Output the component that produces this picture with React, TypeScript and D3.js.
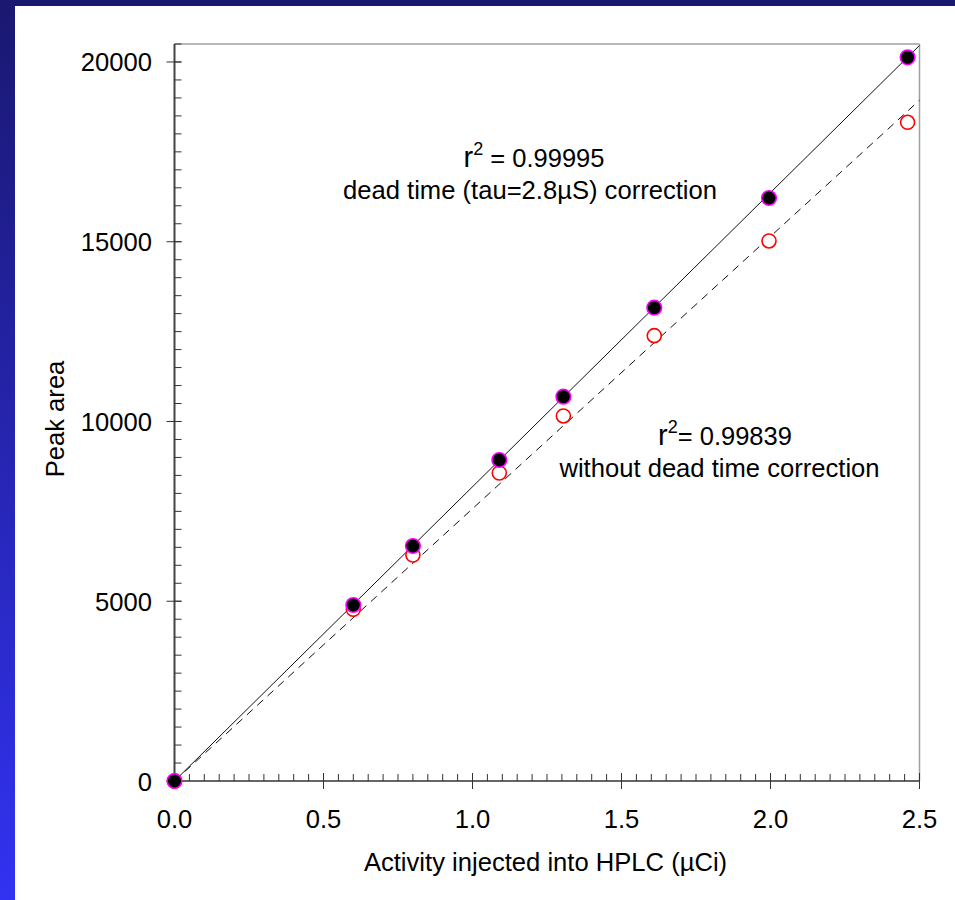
import React from "react";
import * as d3 from "d3";

// Data
const activity = [0, 0.6, 0.8, 1.09, 1.305, 1.61, 1.995, 2.46];
const areaCorrected = [0, 4896, 6537, 8929, 10690, 13166, 16217, 20130];
const areaUncorrected = [0, 4776, 6286, 8567, 10153, 12387, 15021, 18323];
const fitCorrectedLine = [[0, 0], [2.5, 20460]];
const fitUncorrectedLine = [[0, 0], [2.5, 18935]];
const xMajorTicks = [0, 0.5, 1.0, 1.5, 2.0, 2.5];
const yMajorTicks = [0, 5000, 10000, 15000, 20000];

const W = 955;
const H = 900;
const FONT = "'Liberation Sans', Arial, sans-serif";
const FS = 25.6;

export default function App() {
  const x = d3.scaleLinear().domain([0, 2.5]).range([174.5, 919.5]);
  const y = d3.scaleLinear().domain([0, 20500]).range([781, 44]);
  const xMinor = d3.range(0, 2.5 + 1e-9, 0.05);
  const yMinor = d3.range(0, 20500 + 1e-9, 500);
  const line = d3
    .line<number[]>()
    .x((d) => x(d[0]))
    .y((d) => y(d[1]));
  const x0 = x(0), x1 = x(2.5), y0 = y(0), y1 = y(20500);

  return (
    <svg
      width={W}
      height={H}
      style={{ position: "absolute", left: 0, top: 0, display: "block" }}
      fontFamily={FONT}
    >
      <defs>
        <linearGradient id="leftGrad" x1="0" y1="0" x2="0" y2="1">
          <stop offset="0" stopColor="#1a1870" />
          <stop offset="1" stopColor="#3232f2" />
        </linearGradient>
      </defs>
      <rect x={0} y={0} width={W} height={H} fill="#ffffff" />
      <rect x={0} y={0} width={W} height={6} fill="#191870" />
      <rect x={0} y={0} width={15} height={H} fill="url(#leftGrad)" />

      {/* frame top/right */}
      <line x1={x0} x2={x1} y1={y1} y2={y1} stroke="#a0a0a0" strokeWidth={1.5} />
      <line x1={x1} x2={x1} y1={y1} y2={y0} stroke="#a0a0a0" strokeWidth={1.5} />

      {/* fit lines */}
      <path d={line(fitCorrectedLine) || ""} fill="none" stroke="#111" strokeWidth={1} />
      <path
        d={line(fitUncorrectedLine) || ""}
        fill="none"
        stroke="#111"
        strokeWidth={1}
        strokeDasharray="8,6"
      />

      {/* axes */}
      <line x1={x0} x2={x1} y1={y0} y2={y0} stroke="#333" strokeWidth={1.5} />
      <line x1={x0} x2={x0} y1={y1} y2={y0} stroke="#444" strokeWidth={2} />

      {xMinor.map((t, i) => (
        <line key={"xm" + i} x1={x(t)} x2={x(t)} y1={y0} y2={y0 - 7} stroke="#333" strokeWidth={1} />
      ))}
      {xMajorTicks.map((t) => (
        <g key={"xM" + t}>
          <line x1={x(t)} x2={x(t)} y1={y0 - 8} y2={y0 + 8} stroke="#333" strokeWidth={1} />
          <text x={x(t)} y={828} textAnchor="middle" fontSize={FS} fill="#000">
            {t.toFixed(1)}
          </text>
        </g>
      ))}
      {yMinor.map((t, i) => (
        <line key={"ym" + i} x1={x0} x2={x0 + 7} y1={y(t)} y2={y(t)} stroke="#333" strokeWidth={1} />
      ))}
      {yMajorTicks.map((t) => (
        <g key={"yM" + t}>
          <line x1={x0 - 8} x2={x0 + 7} y1={y(t)} y2={y(t)} stroke="#333" strokeWidth={1} />
          <text x={152} y={y(t) + 9.5} textAnchor="end" fontSize={FS} fill="#000">
            {t}
          </text>
        </g>
      ))}

      {/* uncorrected points (open red) */}
      {activity.map((a, i) => (
        <circle
          key={"u" + i}
          cx={x(a)}
          cy={y(areaUncorrected[i])}
          r={7}
          fill="#fff"
          stroke="#ff0000"
          strokeWidth={1.6}
        />
      ))}
      {/* corrected points (black, magenta outline) */}
      {activity.map((a, i) => (
        <circle
          key={"c" + i}
          cx={x(a)}
          cy={y(areaCorrected[i])}
          r={7.3}
          fill="#000"
          stroke="#ff00ff"
          strokeWidth={1.6}
        />
      ))}

      {/* annotations */}
      <text x={534} y={167} textAnchor="middle" fill="#000">
        <tspan fontSize={29}>r</tspan>
        <tspan fontSize={18} dy={-12}>2</tspan>
        <tspan fontSize={25.5} dy={12}> = 0.99995</tspan>
      </text>
      <text x={530} y={199} textAnchor="middle" fontSize={FS} fill="#000">
        dead time (tau=2.8µS) correction
      </text>
      <text x={725} y={445} textAnchor="middle" fill="#000">
        <tspan fontSize={29}>r</tspan>
        <tspan fontSize={18} dy={-12}>2</tspan>
        <tspan fontSize={25.5} dy={12}>= 0.99839</tspan>
      </text>
      <text x={719.5} y={477} textAnchor="middle" fontSize={FS} fill="#000">
        without dead time correction
      </text>

      {/* axis titles */}
      <text x={545.5} y={871} textAnchor="middle" fontSize={FS} fill="#000">
        Activity injected into HPLC (µCi)
      </text>
      <text
        transform={`translate(64,419) rotate(-90)`}
        textAnchor="middle"
        fontSize={FS}
        fill="#000"
      >
        Peak area
      </text>
    </svg>
  );
}
